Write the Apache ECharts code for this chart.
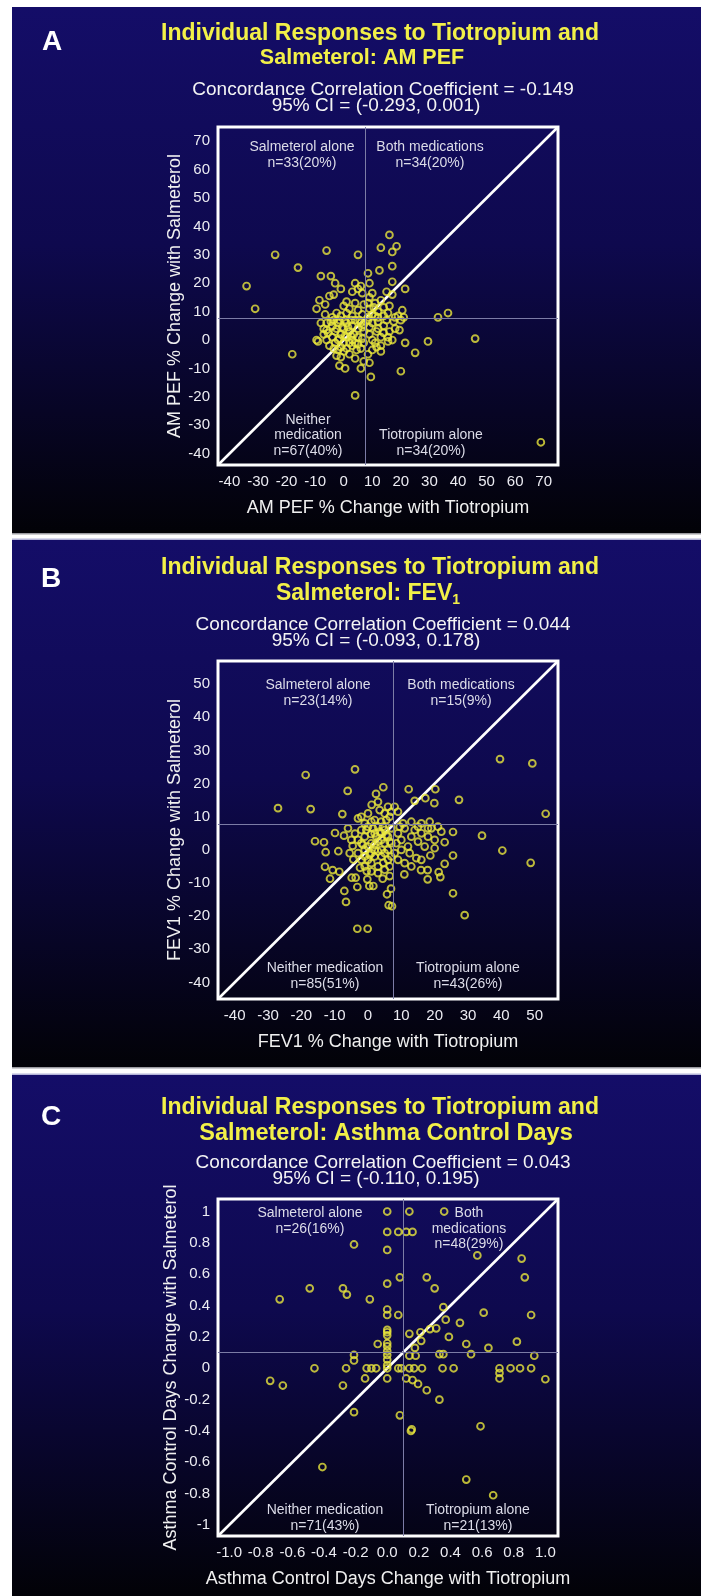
<!DOCTYPE html>
<html><head><meta charset="utf-8">
<script src="https://cdn.jsdelivr.net/npm/echarts@6/dist/echarts.min.js"></script>
<style>html,body{margin:0;padding:0;background:#fff}#c{width:701px;height:1596px}</style>
</head><body><div id="c"></div>
<script>
// ---------- Panel A : AM PEF % change  [tiotropium, salmeterol] ----------
const pefSalAlone = [[-34,19],[-31,11],[-24,30],[-16,25.5],[-6,31.5],[5,30],[-8,22.5],[-4.5,22.5],[-3,20],[-1,18],[-3.5,16],[-8.5,14],[-6.5,12.5],[-9.5,11],[-6.5,9],[1,13.5],[4,20],[5,18],[6,19],[3,17],[6.5,16.5],[4,13],[1,9.5],[-2.5,9.5],[2,11],[-5,15.5],[-1,8.5],[5,10.5],[6.5,9],[3,8.5],[-4,8],[0,12],[7,12.5]];
const pefBoth = [[16,37],[13,32.5],[18.5,33],[17,31],[17,26],[12.5,24.5],[8.5,23.5],[17,20.5],[21.5,18],[15,17],[17,16],[33,8],[36.5,9.5],[20.5,10.5],[21,8],[9,20],[10,16.5],[11,13],[8.5,13],[14,11.5],[15.5,9.5],[12,10],[10,9],[9,11],[13,14],[11,8.5],[18,8],[16,12],[9,15],[12,8],[19,8.5],[8.5,8],[14,8.5],[10.5,11.5]];
const pefTioAlone = [[46,0.5],[29.5,-0.5],[25,-4.5],[21.5,-1],[20,-11],[9.5,-13],[69,-36],[19.5,3.5],[17.5,6.5],[20,7],[15.5,1],[15.5,-0.5],[10,-3.5],[11.5,-2.5],[13,1],[12,4],[10,6],[14,5],[9,2],[11,-1],[8.5,-5],[16,3],[13,-2],[9,4.5],[17,0],[12,6.5],[14,2.5],[10,0],[8.5,7],[18,4],[11.5,3],[15,7],[13,-4],[9,-8]];
const pefNeither = [[-18,-5],[4,-19.5],[-9.5,0],[-9,-0.5],[-6,6],[-5.5,2.5],[-2.5,-5.5],[-1.5,-9],[0.5,-10],[7,-7.5],[6,-10],[4.5,-3.5],[-7,4],[-4,5],[-3,3],[-2,6],[-1,2],[0,4],[1,6],[2,3],[3,5],[4,7],[5,4],[6,6],[7,3],[6.5,0.5],[5,1],[3,0],[2,-1],[1,1],[0,-1],[-1,-2.5],[-2,0],[-3,-1],[-4,1],[-5,-2],[-6,0],[-3.5,7],[-1.5,7],[0.5,7],[2.5,7],[5.5,7],[-8,6],[-7,2],[-2,-3.5],[0,-4],[2,-5],[4,-6.5],[6,-3],[3,-2],[1,-3],[-1,-6],[5,-1.5],[7,-1],[6.5,4.5],[3.5,2],[1.5,4.5],[-0.5,4.5],[-2.5,4],[-4.5,6.5],[-6,3.5],[4,-1],[2.5,1.5],[0.5,1.5],[-1.5,0.5],[-3.5,-3],[7,5.5]];
const pefTicks = [-40,-30,-20,-10,0,10,20,30,40,50,60,70];
const pefRange = [-44, 75];
const pefCut = 7.7;

// ---------- Panel B : FEV1 % change ----------
const fevSalAlone = [[-27,12.6],[-18.7,22.6],[-17.2,12.3],[-3.9,24.3],[-6.1,17.8],[-7.7,10.8],[4.6,18.9],[2.4,16.9],[1.1,13.6],[-3,9.5],[-2,10],[0,11],[2,9],[3.5,12],[5,11],[6,13],[6.5,10],[4,8.5],[1,8.5],[-1,8],[5.5,9],[7,11.5],[3,14.5]];
const fevBoth = [[12.2,18.3],[14,14.8],[17.2,15.6],[20.2,18.3],[19.9,14.1],[27.3,15.1],[39.6,27.4],[49.3,26.1],[53.3,10.9],[8,13],[9,11.5],[10.5,8],[13,8.5],[16,8],[18.5,8.5]];
const fevTioAlone = [[34.2,4.3],[40.3,-0.2],[48.8,-3.9],[25.5,5.4],[23,2.3],[25.5,-1.7],[23,-4.2],[18.7,-1.7],[15.9,-6.1],[17.9,-6.1],[17.9,-8.9],[21.2,-6.7],[21.7,-8.2],[25.5,-13.1],[29,-19.7],[10.9,-7.4],[9,5],[10,3],[11,6.5],[12,1],[13,4],[14,6],[15,2.5],[16,5],[17,1],[18,4],[19,6.5],[20,3],[21,7],[12.5,-1],[14.5,-2.5],[9,-3],[10,0],[8.5,2],[11,-4],[13,-5],[16,-3],[20,0.5],[22,5.5],[9.5,7],[15,7],[8,-1],[18,6.5]];
const fevNeither = [[6.5,-7.9],[6.9,-11.7],[5.7,-13.4],[6.2,-16.7],[7.2,-17],[-3.2,-23.8],[-0.1,-23.8],[-6.6,-15.7],[-7.1,-12.4],[-3.2,-11.2],[-4.9,-8.4],[-3.7,-8.4],[-11.4,-8.7],[-12.9,-5.1],[-10.6,-6.1],[-8.6,-6.6],[-15.9,2.6],[-13.2,2.3],[-12.7,-0.7],[-8.9,-0.4],[-9.9,5.1],[-7.2,4.3],[-3.9,4.9],[-4.6,1.2],[-4.4,-2.9],[-2.4,-5.4],[-0.4,-6.4],[-0.2,-8.9],[0.4,-10.9],[1.6,-10.9],[4.4,-8.7],[4.6,-3.9],[0.9,4.8],[-6,6.5],[-5,3],[-2,6],[-1,4],[0,7],[1,2],[2,5],[3,7],[4,3],[5,6],[6,4],[7,6.5],[7,2],[6,0],[5,2],[4,0],[3,2.5],[2,0],[1,-1],[0,1],[-1,0],[-2,2],[-3,3],[-3,-1],[-2,-3],[-1,-2],[0,-3],[1,-4],[2,-2],[3,-5],[4,-2],[5,-1],[6,-3],[7,-2],[6.5,-5],[5,-6],[3,-7],[1,-6.5],[-1,-5],[2.5,4],[3.5,5.5],[4.5,7],[5.5,4.5],[6.5,2.5],[1.5,6.5],[-0.5,6],[-1.5,1.5],[0.5,-1.5],[2,1.5],[3,-0.5],[4,5],[-5.5,-1]];
const fevTicks = [-40,-30,-20,-10,0,10,20,30,40,50];
const fevRange = [-45, 57];
const fevCut = 7.6;

// ---------- Panel C : Asthma control days change ----------
const acdSalAlone = [[0,1],[0,0.87],[0.07,0.87],[-0.21,0.79],[0,0.755],[0.08,0.58],[0,0.54],[-0.49,0.51],[-0.28,0.51],[-0.255,0.47],[-0.68,0.44],[-0.11,0.44],[0,0.375],[0,0.34],[0.07,0.34],[0,0.245],[0,0.23],[0,0.21],[0,0.16],[-0.06,0.155],[0,0.14],[0,0.11]];
const acdBoth = [[0.14,1],[0.36,1],[0.12,0.87],[0.16,0.87],[0.57,0.72],[0.85,0.7],[0.87,0.58],[0.25,0.58],[0.3,0.51],[0.355,0.39],[0.61,0.355],[0.91,0.34],[0.37,0.31],[0.46,0.29],[0.14,0.22],[0.21,0.23],[0.215,0.175],[0.27,0.25],[0.31,0.255],[0.39,0.2],[0.82,0.17],[0.5,0.155],[0.64,0.13],[0.175,0.13]];
const acdNeither = [[0,0.085],[0,0.055],[0,0.02],[0,0],[0,-0.065],[-0.21,0.085],[-0.21,0.05],[-0.46,0],[-0.26,0],[-0.13,0],[-0.1,0],[-0.07,0],[0.07,0],[0.09,0],[-0.74,-0.08],[-0.66,-0.11],[-0.28,-0.11],[-0.14,-0.065],[-0.21,-0.28],[0.08,-0.3],[-0.41,-0.63]];
const acdTioAlone = [[0.14,0.08],[0.18,0.08],[0.33,0.09],[0.355,0.09],[0.53,0.09],[0.93,0.08],[0.14,0],[0.17,0],[0.22,0],[0.35,0],[0.42,0],[0.71,0],[0.78,0],[0.84,0],[0.91,0],[0.71,-0.03],[0.71,-0.065],[1.0,-0.07],[0.12,-0.065],[0.16,-0.075],[0.195,-0.1],[0.25,-0.14],[0.33,-0.2],[0.15,-0.4],[0.155,-0.39],[0.59,-0.37],[0.5,-0.71],[0.67,-0.81]];
const acdTicks = [-1,-0.8,-0.6,-0.4,-0.2,0,0.2,0.4,0.6,0.8,1];
const acdRange = [-1.07, 1.08];
const acdCut = 0.1;

// ---------- texts ----------
const panels = [
  {letter:'A', t1:'Individual Responses to Tiotropium and', t2:'Salmeterol: AM PEF', ccc:'Concordance Correlation Coefficient = -0.149', ci:'95% CI = (-0.293, 0.001)',
   xName:'AM PEF % Change with Tiotropium', yName:'AM PEF % Change with Salmeterol',
   q:[ 'Salmeterol alone\nn=33(20%)','Both medications\nn=34(20%)','Neither\nmedication\nn=67(40%)','Tiotropium alone\nn=34(20%)' ]},
  {letter:'B', t1:'Individual Responses to Tiotropium and', t2:'Salmeterol: FEV', t2sub:'1', ccc:'Concordance Correlation Coefficient = 0.044', ci:'95% CI = (-0.093, 0.178)',
   xName:'FEV1 % Change with Tiotropium', yName:'FEV1 % Change with Salmeterol',
   q:[ 'Salmeterol alone\nn=23(14%)','Both medications\nn=15(9%)','Neither medication\nn=85(51%)','Tiotropium alone\nn=43(26%)' ]},
  {letter:'C', t1:'Individual Responses to Tiotropium and', t2:'Salmeterol: Asthma Control Days', ccc:'Concordance Correlation Coefficient = 0.043', ci:'95% CI = (-0.110, 0.195)',
   xName:'Asthma Control Days Change with Tiotropium', yName:'Asthma Control Days Change with Salmeterol',
   q:[ 'Salmeterol alone\nn=26(16%)','Both\nmedications\nn=48(29%)','Neither medication\nn=71(43%)','Tiotropium alone\nn=21(13%)' ]}
];

// ---------- layout (pixels) ----------
const FONT = '"Liberation Sans", Arial, Helvetica, sans-serif';
const YEL = '#f2f048';
const PT = '#e8e63c';
const boxes = [{top:7,bottom:533},{top:540,bottom:1067},{top:1075,bottom:1596}];
const grids = [{left:218, top:127, width:340, height:338},{left:218, top:661, width:340, height:338},{left:218, top:1199, width:340, height:337}];
const titlePos = [
  {L:[52,42], t1:[380,33.5], t2:[362,58], t2size:21.5, c:[383,89.5], ci:[376,105.5]},
  {L:[51,579], t1:[380,568], t2:[368,594], t2size:23, c:[383,624.5], ci:[376,640.5]},
  {L:[51,1117], t1:[380,1108], t2:[386,1134], t2size:23.5, c:[383,1162.5], ci:[376,1178.5]}
];
const quadPos = [
  [[302,155],[430,155],[308,435.5],[431,443]],
  [[318,693],[461,693],[325,976.5],[468,976.5]],
  [[310,1221],[469,1229],[325,1518.5],[478,1518.5]]
];

const all = [
  {pts:[pefSalAlone,pefBoth,pefTioAlone,pefNeither], ticks:pefTicks, range:pefRange, cut:pefCut, fmtX:v=>String(v), fmtY:v=>String(v)},
  {pts:[fevSalAlone,fevBoth,fevTioAlone,fevNeither], ticks:fevTicks, range:fevRange, cut:fevCut, fmtX:v=>String(v), fmtY:v=>String(v)},
  {pts:[acdSalAlone,acdBoth,acdTioAlone,acdNeither], ticks:acdTicks, range:acdRange, cut:acdCut, fmtX:v=>(+v).toFixed(1), fmtY:v=>String(+(+v).toFixed(1))}
];

function txt(x,y,text,size,color,weight,extra){
  return Object.assign({type:'text', x:x, y:y, z:100, silent:true,
    style:Object.assign({text:text, fill:color, fontSize:size, fontWeight:weight||'normal', fontFamily:FONT, align:'center', verticalAlign:'middle'}, extra||{})});
}

const graphic = [];
boxes.forEach(b=>{
  graphic.push({type:'rect', z:-10, silent:true, shape:{x:12, y:b.top, width:689, height:b.bottom-b.top},
    style:{fill:{type:'linear', x:0, y:0, x2:0, y2:1, colorStops:[{offset:0,color:'#140d68'},{offset:0.45,color:'#0e094e'},{offset:1,color:'#020207'}]}}});
});
graphic.push({type:'rect', z:-9, silent:true, shape:{x:12,y:533,width:689,height:1.5}, style:{fill:'#9a9aa0'}});
graphic.push({type:'rect', z:-9, silent:true, shape:{x:12,y:538.5,width:689,height:1.5}, style:{fill:'#b4b4d8'}});
graphic.push({type:'rect', z:-9, silent:true, shape:{x:12,y:1067,width:689,height:1.5}, style:{fill:'#9a9aa0'}});
graphic.push({type:'rect', z:-9, silent:true, shape:{x:12,y:1073.5,width:689,height:1.5}, style:{fill:'#b4b4d8'}});

panels.forEach((p,i)=>{
  const tp = titlePos[i];
  graphic.push(txt(tp.L[0],tp.L[1],p.letter,28,'#ffffff','bold'));
  graphic.push(txt(tp.t1[0],tp.t1[1],p.t1,23,YEL,'bold'));
  if (p.t2sub) {
    graphic.push(txt(tp.t2[0],tp.t2[1],'{a|'+p.t2+'}{s|'+p.t2sub+'}',tp.t2size,YEL,'bold',
      {rich:{a:{fontSize:tp.t2size,fontWeight:'bold',fontFamily:FONT,fill:YEL,lineHeight:26},
             s:{fontSize:14,fontWeight:'bold',fontFamily:FONT,fill:YEL,lineHeight:8,verticalAlign:'bottom'}}}));
  } else {
    graphic.push(txt(tp.t2[0],tp.t2[1],p.t2,tp.t2size,YEL,'bold'));
  }
  graphic.push(txt(tp.c[0],tp.c[1],p.ccc,19,'#f4f4f4'));
  graphic.push(txt(tp.ci[0],tp.ci[1],p.ci,19,'#f4f4f4'));
  p.q.forEach((q,k)=>{
    const lh = q.split('\n').length===3 ? 15.5 : 16;
    graphic.push(txt(quadPos[i][k][0],quadPos[i][k][1],q,14,'#dcdce8','normal',{lineHeight:lh}));
  });
});

const xAxis=[], yAxis=[], series=[];
all.forEach((d,i)=>{
  const common = {type:'value', gridIndex:i, min:d.range[0], max:d.range[1],
    axisLine:{show:false}, axisTick:{show:false}, splitLine:{show:false},
    nameLocation:'middle', nameTextStyle:{color:'#f0f0f0', fontSize:18, fontFamily:FONT}};
  xAxis.push(Object.assign({}, common, {name:panels[i].xName, nameGap:34,
    axisLabel:{customValues:d.ticks, color:'#ececf2', fontSize:15, fontFamily:FONT, margin:9, formatter:d.fmtX}}));
  yAxis.push(Object.assign({}, common, {name:panels[i].yName, nameGap:32,
    axisLabel:{customValues:d.ticks, color:'#ececf2', fontSize:15, fontFamily:FONT, margin:8, formatter:d.fmtY}}));
  series.push({type:'line', xAxisIndex:i, yAxisIndex:i, silent:true, symbol:'none', z:2,
    data:[[d.range[0],d.range[0]],[d.range[1],d.range[1]]],
    lineStyle:{color:'#ffffff', width:2.6},
    markLine:{silent:true, symbol:'none', label:{show:false}, lineStyle:{color:'#7c7ca6', width:1, type:'solid'},
      data:[{xAxis:d.cut},{yAxis:d.cut}], animation:false}});
  series.push({type:'scatter', xAxisIndex:i, yAxisIndex:i, silent:true, z:3,
    symbol:'circle', symbolSize:6.8,
    itemStyle:{color:'rgba(0,0,0,0)', borderColor:PT, borderWidth:1.9},
    data:[].concat(...d.pts)});
});

const chart = echarts.init(document.getElementById('c'), null, {renderer:'canvas'});
chart.setOption({
  backgroundColor:'#ffffff',
  animation:false,
  grid: grids.map(g=>Object.assign({show:true, borderColor:'#ffffff', borderWidth:3, backgroundColor:'rgba(0,0,0,0)'}, g)),
  xAxis:xAxis, yAxis:yAxis, series:series, graphic:graphic
});
</script></body></html>
